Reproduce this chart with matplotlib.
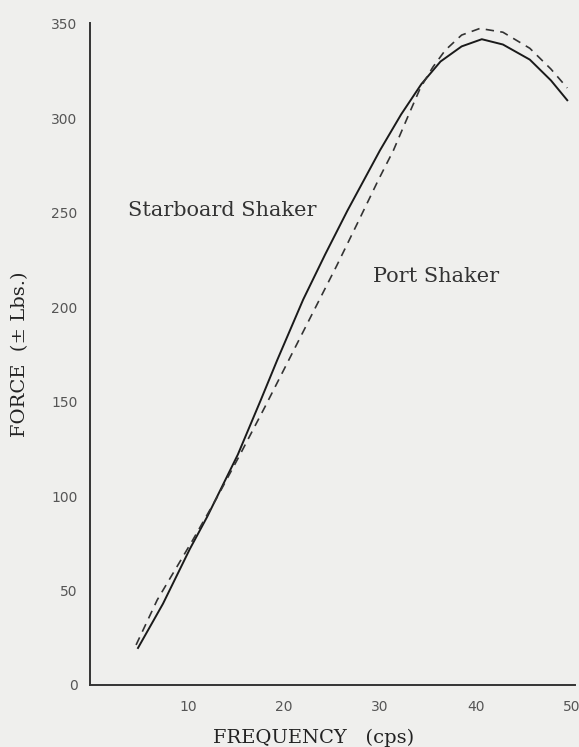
import matplotlib.pyplot as plt

# frequency (cps) / force (+- lbs)
stbd_freq = [4.8, 7.4, 10.2, 12.0, 15.2, 17.6, 19.3, 22.0, 24.3, 26.6, 28.3, 30.0,
             32.2, 34.3, 36.3, 38.5, 40.6, 42.8, 45.6, 47.8, 49.5]
stbd_force = [19.6, 43.0, 72.0, 89.0, 122.0, 151.0, 172.0, 204.0, 228.0, 251.0, 267.0, 283.0,
              302.0, 318.0, 330.0, 338.0, 341.8, 339.0, 331.0, 320.0, 309.5]

port_freq = [4.6, 6.8, 10.5, 13.0, 15.4, 18.0, 20.6, 23.2, 25.5, 27.9, 29.8, 31.4,
             33.0, 34.2, 35.5, 36.8, 38.5, 40.4, 42.8, 45.6, 47.8, 49.5]
port_force = [21.2, 45.0, 76.7, 99.0, 121.7, 147.0, 173.0, 199.0, 222.0, 247.0, 267.0, 283.0,
              302.0, 316.0, 327.0, 336.0, 344.0, 347.5, 345.5, 337.0, 326.0, 316.0]

xticks = [10, 20, 30, 40, 50]
yticks = [0, 50, 100, 150, 200, 250, 300, 350]

bg = '#efefed'
fig = plt.figure(figsize=(5.79, 7.47), dpi=100, facecolor=bg)
ax = fig.add_axes([0.1554, 0.083, 0.8376, 0.886], facecolor=bg)

ax.plot(stbd_freq, stbd_force, color='#1a1a1a', lw=1.4)
ax.plot(port_freq, port_force, color='#333333', lw=1.2, dashes=(5, 3.8))

ax.set_xlim(-0.2, 50.3)
ax.set_ylim(0, 350.3)
ax.set_xticks(xticks)
ax.set_yticks(yticks)
ax.tick_params(length=0, labelsize=10, labelcolor='#555555')
ax.tick_params(axis='x', pad=11)
ax.tick_params(axis='y', pad=9)
for lab in ax.get_xticklabels() + ax.get_yticklabels():
    lab.set_family('DejaVu Sans')

for s in ['top', 'right']:
    ax.spines[s].set_visible(False)
for s in ['left', 'bottom']:
    ax.spines[s].set_color('#333333')
    ax.spines[s].set_linewidth(1.4)

ax.text(3.75, 251, 'Starboard Shaker', family='DejaVu Serif', fontsize=15,
        color='#333333', va='center', ha='left')
ax.text(29.3, 216, 'Port Shaker', family='DejaVu Serif', fontsize=15,
        color='#333333', va='center', ha='left')

# axis titles placed by hand, the plot area nearly fills the page
fig.text(0.368, 0.012, 'FREQUENCY   (cps)', family='DejaVu Serif', fontsize=14,
         color='#222222', ha='left', va='center')
fig.text(0.035, 0.415, 'FORCE  (\u00b1 Lbs.)', family='DejaVu Serif', fontsize=14,
         color='#222222', ha='center', va='bottom', rotation=90)

fig.savefig('out.png', dpi=100, facecolor=bg)
